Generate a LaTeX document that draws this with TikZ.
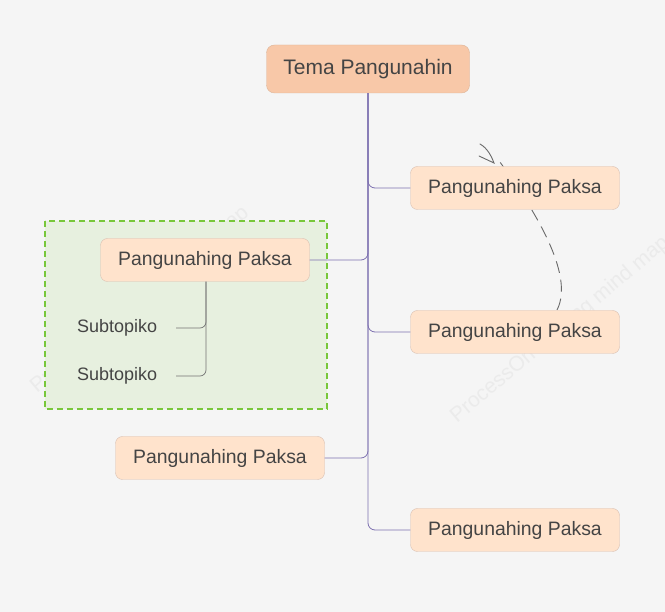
\documentclass[tikz,border=0pt]{standalone}
\usepackage{fontspec}
\setmainfont{Liberation Sans}
\usetikzlibrary{arrows.meta}
\definecolor{bg}{HTML}{F5F5F5}
\definecolor{rootf}{HTML}{F8C8A8}
\definecolor{rootd}{HTML}{DDB498}
\definecolor{subf}{HTML}{FFE3CC}
\definecolor{subd}{HTML}{D9BFB0}
\definecolor{trunk}{HTML}{7D70B0}
\definecolor{grf}{HTML}{E7F0DF}
\definecolor{grd}{HTML}{78C73A}
\definecolor{txt}{HTML}{444444}
\tikzset{
 rootbox/.style={draw=rootd,fill=rootf,rounded corners=8pt,minimum width=203pt,minimum height=48pt,font=\fontsize{21}{24}\selectfont,text=txt},
 subbox/.style={draw=subd,fill=subf,rounded corners=7pt,minimum width=209pt,minimum height=43pt,font=\fontsize{19.4}{22}\selectfont,text=txt},
 leaf/.style={font=\fontsize{18}{20}\selectfont,text=txt,inner sep=0pt},
 br/.style={draw=trunk,line width=0.8pt,rounded corners=7pt},
 wm/.style={text=black!8,font=\fontsize{21}{24}\selectfont,rotate=40}
}
\begin{document}
\begin{tikzpicture}[x=1pt,y=-1pt]
\fill[bg] (0,0) rectangle (665,612);
\useasboundingbox (0,0) rectangle (665,612);
\node[wm] at (140,300) {ProcessOn Libreng mind map};
\node[wm] at (560,330) {ProcessOn Libreng mind map};
\draw[draw=grd,fill=grf,line width=1.6pt,dash pattern=on 6pt off 4pt] (45,221) rectangle (327,409);
\draw[txt!80,line width=0.9pt,dash pattern=on 12pt off 7pt] (557,310) .. controls (575,275) and (535,210) .. (497,158);
\draw[txt!80,line width=0.9pt,line cap=round] (480,144) .. controls (487,148) and (491,155) .. (494,163) -- (479,156);
\node[rootbox] (root) at (368,69) {Tema Pangunahin};
\node[subbox] (a) at (515,188) {Pangunahing Paksa};
\node[subbox] (b) at (205,260) {Pangunahing Paksa};
\node[subbox] (c) at (515,332) {Pangunahing Paksa};
\node[subbox] (d) at (220,458) {Pangunahing Paksa};
\node[subbox] (e) at (515,530) {Pangunahing Paksa};
\node[leaf,anchor=west] (s1) at (77,328) {Subtopiko};
\node[leaf,anchor=west] (s2) at (77,376) {Subtopiko};
\draw[br] (root.south) -- (368,188) -- (a.west);
\draw[br] (root.south) -- (368,332) -- (c.west);
\draw[br] (root.south) -- (368,530) -- (e.west);
\draw[br] (root.south) -- (368,260) -- (b.east);
\draw[br] (root.south) -- (368,458) -- (d.east);
\draw[draw=black!55,line width=0.7pt,rounded corners=6pt] (b.south) ++(1,0) coordinate (bs) -- (206,328) -- (176,328);
\draw[draw=black!55,line width=0.7pt,rounded corners=6pt] (bs) -- (206,376) -- (176,376);
\end{tikzpicture}
\end{document}
